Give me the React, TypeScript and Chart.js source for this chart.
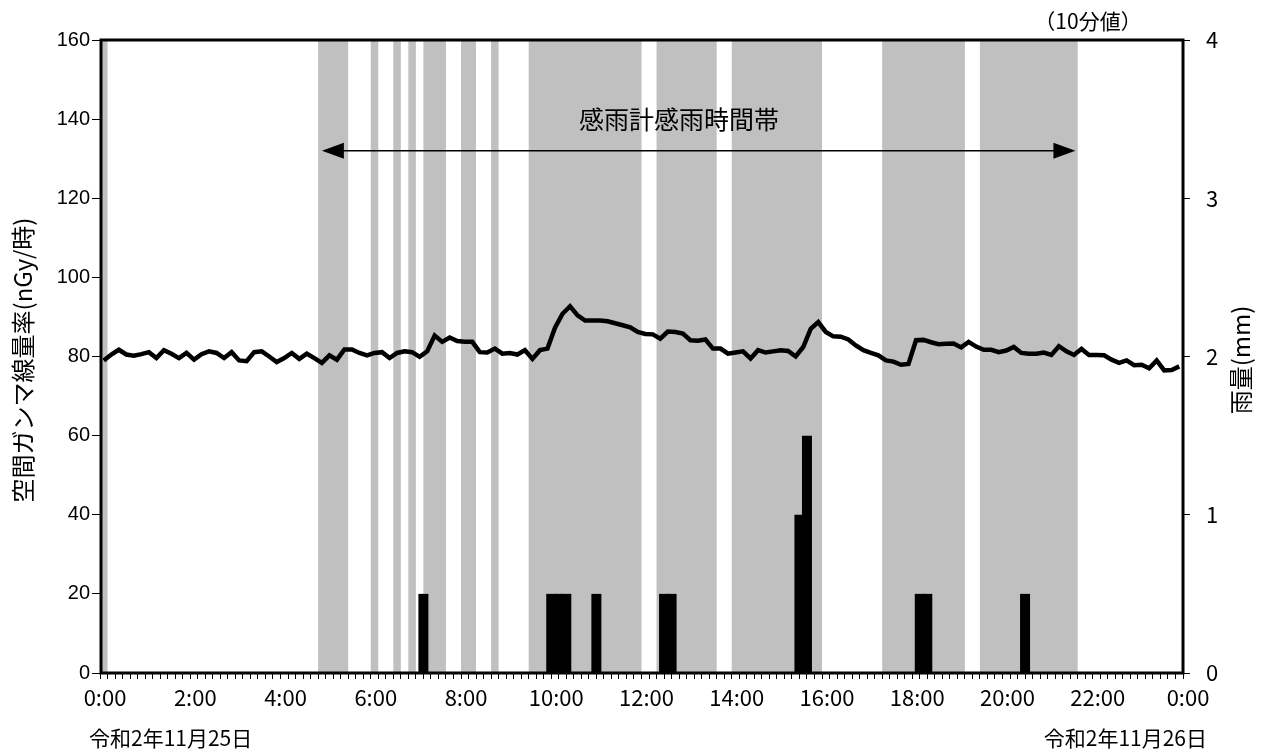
import React, { useEffect, useRef } from "react";
import { Chart, registerables } from "chart.js";

Chart.register(...registerables);

// 10-minute gamma dose rate values (nGy/h), one per 10-minute interval 0:00-24:00
const GAMMA_VALUES = [
  79.0, 80.5, 81.7, 80.5, 80.2, 80.6, 81.1, 79.6, 81.6, 80.7, 79.6, 80.9,
  79.2, 80.6, 81.3, 80.9, 79.6, 81.1, 79.0, 78.8, 81.1, 81.3, 80.0, 78.6,
  79.6, 80.9, 79.4, 80.7, 79.6, 78.4, 80.3, 79.2, 81.8, 81.8, 80.9, 80.3,
  80.9, 81.1, 79.6, 80.9, 81.3, 81.1, 79.9, 81.3, 85.3, 83.7, 84.8, 83.9,
  83.7, 83.7, 81.1, 81.0, 82.0, 80.7, 80.9, 80.5, 81.6, 79.4, 81.6, 82.0,
  87.3, 90.8, 92.7, 90.4, 89.1, 89.1, 89.1, 88.9, 88.4, 87.9, 87.4, 86.2,
  85.7, 85.6, 84.5, 86.3, 86.2, 85.8, 84.1, 84.0, 84.3, 82.0, 82.0, 80.7,
  81.0, 81.3, 79.5, 81.6, 81.0, 81.3, 81.6, 81.4, 80.0, 82.4, 87.0, 88.7,
  86.2, 85.1, 85.0, 84.3, 82.8, 81.6, 80.9, 80.3, 79.0, 78.7, 77.9, 78.1,
  84.1, 84.2, 83.6, 83.1, 83.2, 83.3, 82.3, 83.7, 82.5, 81.7, 81.7, 81.1,
  81.5, 82.4, 80.9, 80.7, 80.7, 81.0, 80.4, 82.6, 81.3, 80.4, 81.9, 80.4,
  80.4, 80.3, 79.2, 78.4, 79.0, 77.8, 77.9, 77.0, 79.0, 76.5, 76.6, 77.5,
];

// Rainfall (mm per 10 minutes)
const RAIN_TIMES = ["7:10", "10:00", "10:10", "10:20", "11:00", "12:30", "12:40", "15:30", "15:40", "18:10", "18:20", "20:30"];
const RAIN_MM = [0.5, 0.5, 0.5, 0.5, 0.5, 0.5, 0.5, 1.0, 1.5, 0.5, 0.5, 0.5];

// Rain-sensor detection periods
const SENSOR_START = ["0:00", "4:50", "6:00", "6:30", "6:50", "7:10", "8:00", "8:40", "9:30", "12:20", "14:00", "17:20", "19:30"];
const SENSOR_END = ["0:10", "5:30", "6:10", "6:40", "7:00", "7:40", "8:20", "8:50", "12:00", "13:40", "16:00", "19:10", "21:40"];

const X_TICK_LABELS = ["0:00", "2:00", "4:00", "6:00", "8:00", "10:00", "12:00", "14:00", "16:00", "18:00", "20:00", "22:00", "0:00"];

const ARROW_FROM = "4:55";
const ARROW_TO = "21:37";
const ARROW_LEVEL = 132;
const BAND_LABEL = "感雨計感雨時間帯";
const BAND_LABEL_TIME = "12:50";
const BAND_LABEL_LEVEL = 140;

const LEFT_TITLE = "空間ガンマ線量率(nGy/時)";
const RIGHT_TITLE = "雨量(mm)";
const NOTE = "（10分値）";
const DATE_START = "令和2年11月25日";
const DATE_END = "令和2年11月26日";

const toMin = (s: string) => {
  const [h, m] = s.split(":").map(Number);
  return h * 60 + m;
};

const CJK = '"Noto Sans CJK JP", "Noto Sans", sans-serif';

export default function App() {
  const ref = useRef<HTMLCanvasElement>(null);

  useEffect(() => {
    const canvas = ref.current;
    if (!canvas) return;

    const bandPlugin = {
      id: "bands",
      beforeDatasetsDraw(chart: any) {
        const { ctx, chartArea: a, scales } = chart;
        const x = scales.x;
        ctx.save();
        ctx.fillStyle = "#c0c0c0";
        for (let i = 0; i < SENSOR_START.length; i++) {
          const x0 = x.getPixelForValue(toMin(SENSOR_START[i]));
          const x1 = x.getPixelForValue(toMin(SENSOR_END[i]));
          ctx.fillRect(x0, a.top, x1 - x0, a.bottom - a.top);
        }
        ctx.restore();
      },
    };

    const decoPlugin = {
      id: "deco",
      afterDatasetsDraw(chart: any) {
        const { ctx, chartArea: a, scales } = chart;
        const x = scales.x;
        const y = scales.y;
        ctx.save();
        // frame
        ctx.strokeStyle = "#000";
        ctx.lineWidth = 3;
        ctx.strokeRect(a.left + 1, a.top, a.right - a.left - 1, a.bottom - a.top);
        // arrow
        const ay = y.getPixelForValue(ARROW_LEVEL);
        const ax0 = x.getPixelForValue(toMin(ARROW_FROM));
        const ax1 = x.getPixelForValue(toMin(ARROW_TO));
        ctx.lineWidth = 1.5;
        ctx.beginPath();
        ctx.moveTo(ax0 + 10, ay);
        ctx.lineTo(ax1 - 10, ay);
        ctx.stroke();
        ctx.fillStyle = "#000";
        ctx.beginPath();
        ctx.moveTo(ax0, ay);
        ctx.lineTo(ax0 + 22, ay - 8);
        ctx.lineTo(ax0 + 22, ay + 8);
        ctx.closePath();
        ctx.fill();
        ctx.beginPath();
        ctx.moveTo(ax1, ay);
        ctx.lineTo(ax1 - 22, ay - 8);
        ctx.lineTo(ax1 - 22, ay + 8);
        ctx.closePath();
        ctx.fill();
        // band label
        ctx.font = `25px ${CJK}`;
        ctx.textAlign = "center";
        ctx.textBaseline = "middle";
        ctx.fillText(BAND_LABEL, x.getPixelForValue(toMin(BAND_LABEL_TIME)), y.getPixelForValue(BAND_LABEL_LEVEL));
        ctx.restore();
      },
      afterDraw(chart: any) {
        const { ctx, chartArea: a } = chart;
        ctx.save();
        ctx.fillStyle = "#000";
        ctx.textBaseline = "middle";
        ctx.textAlign = "center";
        // left title
        ctx.save();
        ctx.translate(23, 360);
        ctx.rotate(-Math.PI / 2);
        ctx.font = `24px ${CJK}`;
        ctx.fillText(LEFT_TITLE, 0, 0);
        ctx.restore();
        // right title
        ctx.save();
        ctx.translate(1241, 360);
        ctx.rotate(-Math.PI / 2);
        ctx.font = `24px ${CJK}`;
        ctx.fillText(RIGHT_TITLE, 0, 0);
        ctx.restore();
        // note
        ctx.font = `21px ${CJK}`;
        ctx.fillText(NOTE, 1088, a.top - 19);
        // dates
        ctx.font = `21px ${CJK}`;
        ctx.textAlign = "left";
        ctx.fillText(DATE_START, 89, 738);
        ctx.textAlign = "right";
        ctx.fillText(DATE_END, 1207, 738);
        ctx.restore();
      },
    };

    const chart = new Chart(canvas, {
      type: "line",
      data: {
        datasets: [
          {
            type: "line",
            label: "gamma",
            data: GAMMA_VALUES.map((v, k) => ({ x: k * 10 + 5, y: v })),
            borderColor: "#000",
            borderWidth: 4.5,
            pointRadius: 0,
            tension: 0,
            fill: false,
            xAxisID: "x",
            yAxisID: "y",
            order: 0,
          } as any,
          {
            type: "bar",
            label: "rain",
            data: RAIN_TIMES.map((t, i) => ({ x: toMin(t), y: RAIN_MM[i] })),
            backgroundColor: "#000",
            borderWidth: 0,
            barPercentage: 1.33,
            categoryPercentage: 1,
            grouped: false,
            xAxisID: "x",
            yAxisID: "y1",
            order: 1,
          } as any,
        ],
      },
      options: {
        responsive: false,
        animation: false,
        devicePixelRatio: 1,
        layout: { padding: { top: 40, left: 0, right: 0, bottom: 0 } },
        plugins: {
          legend: { display: false },
          tooltip: { enabled: false },
          title: { display: false },
        },
        scales: {
          x: {
            type: "linear",
            min: 0,
            max: 1440,
            offset: false,
            border: { display: false },
            grid: {
              offset: false,
              drawOnChartArea: false,
              drawTicks: true,
              tickLength: 6,
              color: "#000",
              lineWidth: 1,
            },
            ticks: {
              stepSize: 10,
              autoSkip: false,
              maxRotation: 0,
              minRotation: 0,
              labelOffset: 5,
              padding: 5,
              color: "#000",
              font: { family: CJK, size: 22 },
              callback: (v: any) => {
                const n = Number(v);
                return n % 120 === 0 ? X_TICK_LABELS[n / 120] : "";
              },
            },
            afterFit: (s: any) => {
              s.height = 78;
            },
          },
          y: {
            type: "linear",
            position: "left",
            min: 0,
            max: 160,
            border: { display: false },
            grid: {
              drawOnChartArea: false,
              drawTicks: true,
              tickLength: 8,
              color: "#000",
              lineWidth: 1,
            },
            ticks: {
              stepSize: 20,
              padding: 2,
              color: "#000",
              font: { family: '"Liberation Sans", Arial, sans-serif', size: 20 },
            },
            afterFit: (s: any) => {
              s.width = 100;
            },
          },
          y1: {
            type: "linear",
            position: "right",
            min: 0,
            max: 4,
            border: { display: false },
            grid: {
              drawOnChartArea: false,
              drawTicks: true,
              tickLength: 7,
              color: "#000",
              lineWidth: 1,
            },
            ticks: {
              stepSize: 1,
              padding: 16,
              color: "#000",
              font: { family: CJK, size: 22 },
            },
            afterFit: (s: any) => {
              s.width = 80;
            },
          },
        },
      },
      plugins: [bandPlugin, decoPlugin],
    } as any);

    return () => chart.destroy();
  }, []);

  return (
    <div style={{ position: "absolute", left: 0, top: 0, width: 1263, height: 751, background: "#fff" }}>
      <canvas ref={ref} width={1263} height={751} style={{ display: "block", width: 1263, height: 751 }} />
    </div>
  );
}
